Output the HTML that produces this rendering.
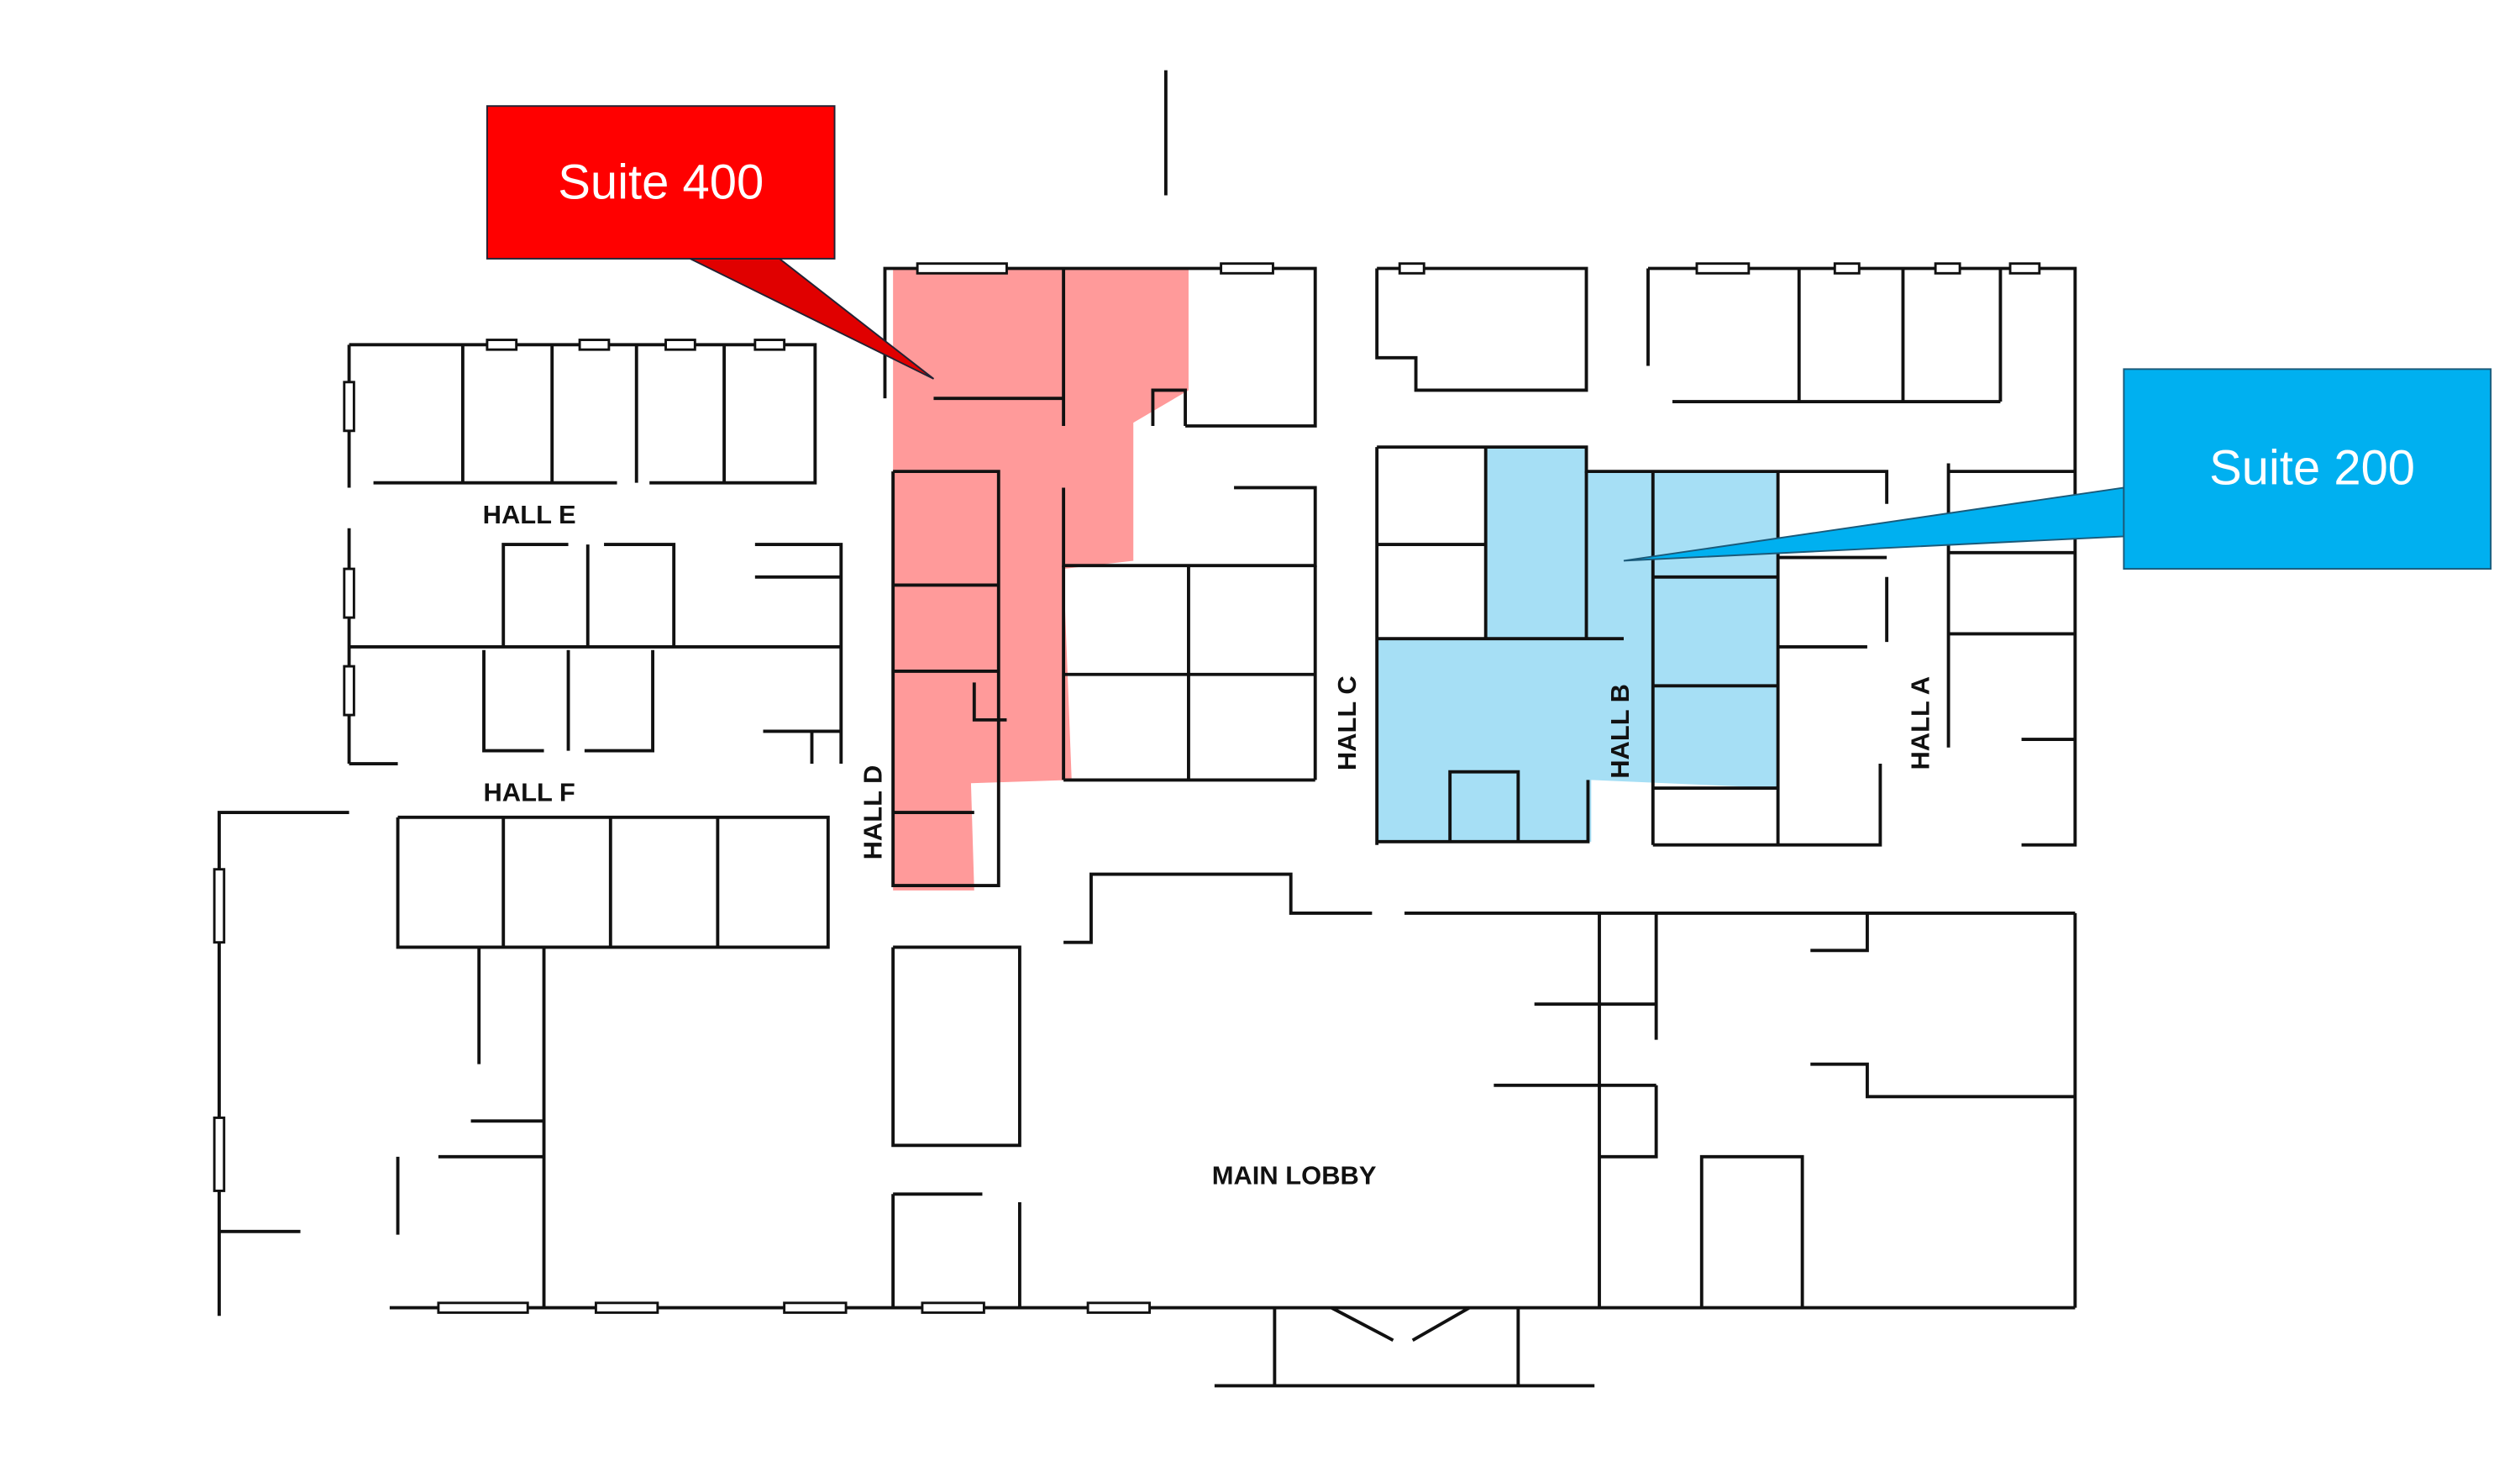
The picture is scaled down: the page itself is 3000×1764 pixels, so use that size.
<!DOCTYPE html>
<html><head><meta charset="utf-8"><style>
html,body{margin:0;padding:0;background:#fff;}
svg{display:block;}
</style></head><body>
<svg width="3000" height="1764" viewBox="0 0 1552 912" xmlns="http://www.w3.org/2000/svg">
<rect width="1552" height="912" fill="#fff"/>
<!-- shaded suites -->
<polygon points="550,165 732,165 732,240 698,260 698,345 655,350 660,480 598,482 600,548 550,548" fill="#ff9a9a"/>
<polygon points="915,275 977,275 977,290 1095,290 1095,485 980,480 980,518 848,518 848,393 915,393" fill="#a6dff5"/>
<g stroke="#111" stroke-width="2" fill="none">
<line x1="718" y1="43" x2="718" y2="120"/>
<!-- Hall E/F wing -->
<polyline points="215,212 502,212 502,297 400,297"/>
<line x1="215" y1="212" x2="215" y2="300"/>
<line x1="215" y1="325" x2="215" y2="470"/>
<line x1="285" y1="212" x2="285" y2="297"/><line x1="340" y1="212" x2="340" y2="297"/>
<line x1="392" y1="212" x2="392" y2="297"/><line x1="446" y1="212" x2="446" y2="297"/>
<line x1="230" y1="297" x2="380" y2="297"/>
<line x1="215" y1="398" x2="518" y2="398"/>
<polyline points="310,398 310,335 350,335"/><polyline points="372,335 415,335 415,398"/>
<line x1="362" y1="335" x2="362" y2="398"/>
<polyline points="298,400 298,462 335,462"/><polyline points="350,400 350,462"/><polyline points="360,462 402,462 402,400"/>
<polyline points="465,335 518,335 518,470"/><line x1="465" y1="355" x2="518" y2="355"/>
<polyline points="470,450 518,450"/><line x1="500" y1="450" x2="500" y2="470"/>
<line x1="215" y1="470" x2="245" y2="470"/>
<!-- lower left wing -->
<polyline points="215,500 135,500 135,810"/>
<polyline points="245,503 510,503 510,583 245,583 245,503"/>
<line x1="310" y1="503" x2="310" y2="583"/><line x1="376" y1="503" x2="376" y2="583"/><line x1="442" y1="503" x2="442" y2="583"/>
<line x1="135" y1="758" x2="185" y2="758"/>
<line x1="335" y1="583" x2="335" y2="805"/>
<polyline points="295,583 295,655"/><polyline points="270,712 335,712"/><polyline points="290,690 335,690"/>
<line x1="245" y1="712" x2="245" y2="760"/>
<line x1="240" y1="805" x2="1278" y2="805"/>
<!-- Hall D area / suite 400 -->
<polyline points="545,245 545,165 810,165 810,262 730,262"/>
<line x1="655" y1="165" x2="655" y2="262"/><line x1="575" y1="245" x2="655" y2="245"/>
<polyline points="710,262 710,240 730,240 730,262"/>
<polyline points="550,290 615,290 615,545 550,545 550,290"/>
<line x1="550" y1="360" x2="615" y2="360"/><line x1="550" y1="413" x2="615" y2="413"/>
<line x1="550" y1="500" x2="600" y2="500"/>
<polyline points="655,300 655,348 810,348 810,300 760,300"/>
<line x1="655" y1="348" x2="655" y2="480"/>
<line x1="732" y1="348" x2="732" y2="480"/>
<line x1="655" y1="415" x2="810" y2="415"/>
<line x1="810" y1="348" x2="810" y2="480"/>
<line x1="655" y1="480" x2="810" y2="480"/>
<polyline points="600,420 600,443 620,443"/>
<!-- lobby -->
<polyline points="655,580 672,580 672,538 795,538 795,562 845,562"/>
<line x1="865" y1="562" x2="1278" y2="562"/>
<polyline points="550,583 628,583 628,705 550,705 550,583"/>
<polyline points="550,735 605,735"/><line x1="550" y1="735" x2="550" y2="805"/>
<line x1="628" y1="740" x2="628" y2="805"/>
<line x1="985" y1="562" x2="985" y2="805"/>
<line x1="945" y1="618" x2="1020" y2="618"/><line x1="920" y1="668" x2="1020" y2="668"/>
<polyline points="985,712 1020,712 1020,668"/>
<line x1="1020" y1="562" x2="1020" y2="640"/>
<polyline points="1150,562 1150,585 1115,585"/>
<polyline points="1115,655 1150,655 1150,675 1278,675"/>
<polyline points="1048,805 1048,712 1110,712 1110,805"/>
<line x1="748" y1="853" x2="982" y2="853"/>
<line x1="785" y1="805" x2="785" y2="853"/><line x1="935" y1="805" x2="935" y2="853"/>
<line x1="820" y1="805" x2="858" y2="825"/><line x1="870" y1="825" x2="905" y2="805"/>
<!-- right side -->
<polyline points="848,165 977,165 977,240 872,240 872,220 848,220 848,165"/>
<polyline points="1015,165 1278,165 1278,520 1245,520"/>
<line x1="1015" y1="165" x2="1015" y2="225"/>
<line x1="1030" y1="247" x2="1232" y2="247"/>
<line x1="1108" y1="165" x2="1108" y2="247"/><line x1="1172" y1="165" x2="1172" y2="247"/><line x1="1232" y1="165" x2="1232" y2="247"/>
<polyline points="848,275 977,275 977,290 1162,290 1162,310"/>
<line x1="848" y1="275" x2="848" y2="520"/>
<line x1="848" y1="335" x2="915" y2="335"/>
<line x1="915" y1="275" x2="915" y2="393"/>
<line x1="848" y1="393" x2="1000" y2="393"/>
<line x1="977" y1="290" x2="977" y2="393"/>
<line x1="1018" y1="290" x2="1018" y2="520"/>
<line x1="1095" y1="290" x2="1095" y2="520"/>
<line x1="1018" y1="355" x2="1095" y2="355"/><line x1="1018" y1="422" x2="1095" y2="422"/>
<line x1="1018" y1="485" x2="1095" y2="485"/>
<line x1="1095" y1="343" x2="1162" y2="343"/><line x1="1095" y1="398" x2="1150" y2="398"/>
<polyline points="1162,355 1162,395"/><polyline points="1158,470 1158,520 1018,520"/>
<polyline points="848,518 978,518 978,480"/><polyline points="893,518 893,475 935,475 935,518"/>
<polyline points="1200,290 1278,290"/><line x1="1200" y1="285" x2="1200" y2="460"/>
<line x1="1200" y1="390" x2="1278" y2="390"/><line x1="1245" y1="455" x2="1278" y2="455"/>
<line x1="1200" y1="340" x2="1278" y2="340"/>
<line x1="1278" y1="562" x2="1278" y2="805"/>
</g>
<!-- windows -->
<g fill="#fff" stroke="#111" stroke-width="1.5">
<rect x="300" y="209" width="18" height="6"/><rect x="357" y="209" width="18" height="6"/><rect x="410" y="209" width="18" height="6"/><rect x="465" y="209" width="18" height="6"/>
<rect x="212" y="235" width="6" height="30"/><rect x="212" y="350" width="6" height="30"/><rect x="212" y="410" width="6" height="30"/>
<rect x="132" y="535" width="6" height="45"/><rect x="132" y="688" width="6" height="45"/>
<rect x="270" y="802" width="55" height="6"/><rect x="367" y="802" width="38" height="6"/><rect x="483" y="802" width="38" height="6"/><rect x="568" y="802" width="38" height="6"/><rect x="670" y="802" width="38" height="6"/>
<rect x="565" y="162" width="55" height="6"/><rect x="752" y="162" width="32" height="6"/><rect x="862" y="162" width="15" height="6"/>
<rect x="1045" y="162" width="32" height="6"/><rect x="1130" y="162" width="15" height="6"/><rect x="1192" y="162" width="15" height="6"/><rect x="1238" y="162" width="18" height="6"/>
</g>
<!-- callouts -->
<polygon points="425,159 480,159 575,233" fill="#e00000" stroke="#223" stroke-width="1"/>
<rect x="300" y="65" width="214" height="94" fill="#ff0000" stroke="#223" stroke-width="1"/>
<text x="407" y="122" font-family="Liberation Sans, sans-serif" font-size="30" fill="#fff" text-anchor="middle">Suite 400</text>
<polygon points="1308,300 1308,330 1000,345" fill="#00b0f0" stroke="#1a5a7a" stroke-width="1"/>
<rect x="1308" y="227" width="226" height="123" fill="#00b0f0" stroke="#1a5a7a" stroke-width="1"/>
<text x="1424" y="298" font-family="Liberation Sans, sans-serif" font-size="30" fill="#fff" text-anchor="middle">Suite 200</text>
<!-- labels -->
<g font-family="Liberation Sans, sans-serif" font-size="16" font-weight="bold" fill="#111">
<text x="326" y="322" text-anchor="middle">HALL E</text>
<text x="326" y="493" text-anchor="middle">HALL F</text>
<text x="797" y="729" text-anchor="middle">MAIN LOBBY</text>
<text transform="translate(543,500) rotate(-90)" text-anchor="middle">HALL D</text>
<text transform="translate(835,445) rotate(-90)" text-anchor="middle">HALL C</text>
<text transform="translate(1003,450) rotate(-90)" text-anchor="middle">HALL B</text>
<text transform="translate(1188,445) rotate(-90)" text-anchor="middle">HALL A</text>
</g>
</svg>
</body></html>
